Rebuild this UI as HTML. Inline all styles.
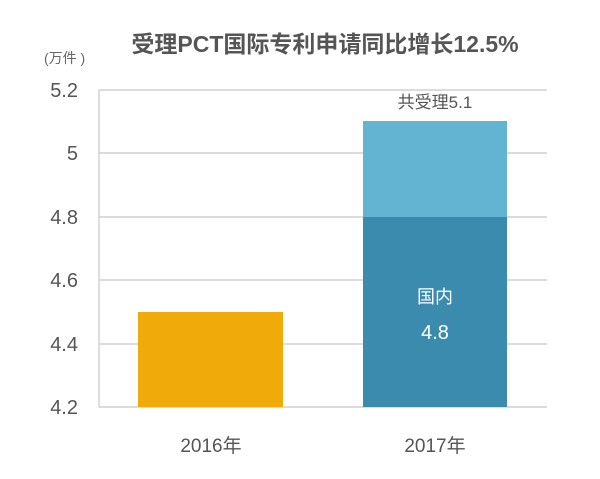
<!DOCTYPE html>
<html><head><meta charset="utf-8"><style>
body{margin:0;background:#fff;}
</style></head><body>
<svg width="600" height="474" xmlns="http://www.w3.org/2000/svg" font-family="Liberation Sans, Noto Sans CJK SC, sans-serif">
<rect width="600" height="474" fill="#fff"/>
<text x="325" y="52" text-anchor="middle" font-size="23" font-weight="bold" fill="#555">受理PCT国际专利申请同比增长12.5%</text>
<text x="44" y="63" font-size="14" fill="#666">(万件 )</text>
<g stroke="#c8c8c8" stroke-width="1.2">
<line x1="99" y1="90" x2="547" y2="90"/>
<line x1="99" y1="153" x2="547" y2="153"/>
<line x1="99" y1="217" x2="547" y2="217"/>
<line x1="99" y1="280" x2="547" y2="280"/>
<line x1="99" y1="344" x2="547" y2="344"/>
<line x1="99" y1="407" x2="547" y2="407"/>
<line x1="99" y1="90" x2="99" y2="407"/>
</g>
<g font-size="20" fill="#555" text-anchor="end">
<text x="78" y="97">5.2</text>
<text x="78" y="160">5</text>
<text x="78" y="224">4.8</text>
<text x="78" y="287">4.6</text>
<text x="78" y="351">4.4</text>
<text x="78" y="414">4.2</text>
</g>
<rect x="138" y="312" width="145" height="95" fill="#f0aa0a"/>
<rect x="363" y="121" width="144" height="96" fill="#63b3d2"/>
<rect x="363" y="217" width="144" height="190" fill="#3b8bae"/>
<text x="435" y="108" text-anchor="middle" font-size="17" fill="#555">共受理5.1</text>
<text x="435" y="303" text-anchor="middle" font-size="18" fill="#fff">国内</text>
<text x="435" y="339" text-anchor="middle" font-size="20" fill="#fff">4.8</text>
<text x="211" y="452" text-anchor="middle" font-size="19" fill="#555">2016年</text>
<text x="435" y="452" text-anchor="middle" font-size="19" fill="#555">2017年</text>
</svg>
</body></html>
